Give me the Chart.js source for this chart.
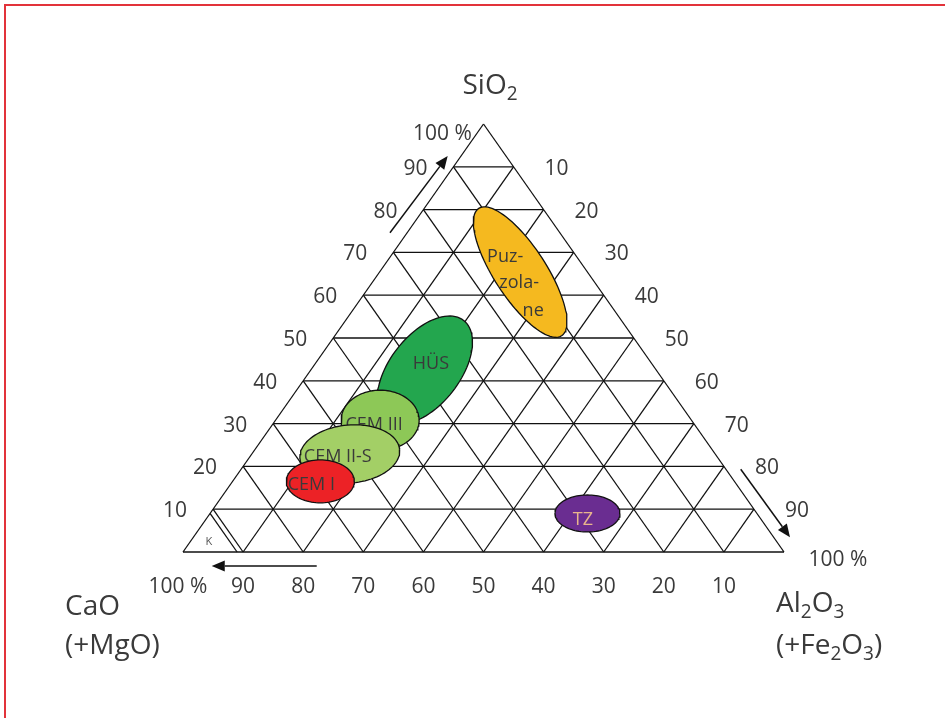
<!DOCTYPE html>
<html>
<head>
<meta charset="utf-8">
<script src="https://cdn.jsdelivr.net/npm/chart.js@4/dist/chart.umd.min.js"></script>
<style>
  html, body { margin: 0; padding: 0; background: #fff; overflow: hidden; }
  canvas { display: block; }
</style>
</head>
<body>
<canvas id="c" width="945" height="718"></canvas>
<script>
// Ternary diagram SiO2 – CaO(+MgO) – Al2O3(+Fe2O3)
// x = Al2O3 + SiO2/2, y = SiO2 (both in %)

const tickValues = [10, 20, 30, 40, 50, 60, 70, 80, 90];

// Composition regions (centre in % SiO2 / % Al2O3)
const regionNames = ['Puzolane', 'HÜS', 'CEM III', 'CEM II-S', 'CEM I', 'TZ'];
const regionLabelLines = [['Puz-', 'zola-', 'ne'], ['HÜS'], ['CEM III'], ['CEM II-S'], ['CEM I'], ['TZ']];
const regionSiO2 = [65.4, 42.5, 30.8, 22.9, 16.5, 9.0];
const regionAl2O3 = [23.4, 19.0, 17.4, 16.3, 14.6, 62.8];
// spread of each region along its two conjugate axes, in % (x, y)
const regionSpreadA = [[6.89, -14.88], [6.45, 11.60], [6.49, 0], [8.29, 1.02], [5.66, 0], [5.41, 0]];
const regionSpreadB = [[3.63, 3.31], [4.59, -5.03], [0, 7.01], [0.42, -6.75], [0, 5.02], [0, 4.32]];

// Small corner field "K" bounded by the CaO = 91 % line
const cornerFieldCaO = 91;

const FONT = '"Open Sans", "Noto Sans", "DejaVu Sans", sans-serif';
const TEXT = '#3a3a3a';
const regionColors = ['#f5b91f', '#23a64e', '#8dc857', '#a3cf66', '#ec2226', '#6a2d91'];
const regionTextColors = [TEXT, TEXT, TEXT, TEXT, TEXT, '#e8b58c'];
const regionOrder = [60, 50, 40, 30, 20, 10];
// label line offsets from region centre in px
const regionLabelOffsets = [[[-15, -17], [-1, 9], [13, 37]], [[6, -8]], [[-6, 3]], [[-12, 1]], [[-9, 1.5]], [[-4.5, 4.5]]];

const pt = (x, y) => ({ x, y });
const datasets = [];

function gridLine(p, q) {
  datasets.push({
    data: [p, q], showLine: true, borderColor: '#111', borderWidth: 1.3,
    pointRadius: 0, fill: false, clip: false, order: 100
  });
}

// frame of the triangle
gridLine(pt(0, 0), pt(100, 0));
gridLine(pt(100, 0), pt(50, 100));
gridLine(pt(50, 100), pt(0, 0));
tickValues.forEach(v => {
  gridLine(pt(v / 2, v), pt(100 - v / 2, v));          // constant SiO2
  gridLine(pt(v, 0), pt(v / 2, v));                    // constant CaO
  gridLine(pt(v, 0), pt(50 + v / 2, 100 - v));         // constant Al2O3
});
{
  const v = 100 - cornerFieldCaO;
  gridLine(pt(v, 0), pt(v / 2, v));
}

// regions as closed outlines
regionNames.forEach((name, i) => {
  const cx = regionAl2O3[i] + regionSiO2[i] / 2;
  const cy = regionSiO2[i];
  const [ax, ay] = regionSpreadA[i];
  const [bx, by] = regionSpreadB[i];
  const pts = [];
  const N = 96;
  for (let k = 0; k <= N; k++) {
    const t = (2 * Math.PI * k) / N;
    pts.push(pt(cx + Math.cos(t) * ax + Math.sin(t) * bx, cy + Math.cos(t) * ay + Math.sin(t) * by));
  }
  datasets.push({
    label: name, data: pts, showLine: true, borderColor: '#111', borderWidth: 1.3,
    backgroundColor: regionColors[i], fill: 'shape', pointRadius: 0, clip: false,
    order: regionOrder[i], regionIndex: i
  });
});

function richText(ctx, parts, x, y, size) {
  let cx = x;
  ctx.textAlign = 'left';
  ctx.textBaseline = 'alphabetic';
  parts.forEach(([t, sub]) => {
    const s = sub ? size * 0.68 : size;
    ctx.font = `400 ${s}px ${FONT}`;
    ctx.fillText(t, cx, sub ? y + size * 0.2 : y);
    cx += ctx.measureText(t).width;
  });
}

function arrow(ctx, x1, y1, x2, y2) {
  const ang = Math.atan2(y2 - y1, x2 - x1);
  const L = 13, W = 5.5;
  const bx = x2 - L * Math.cos(ang), by = y2 - L * Math.sin(ang);
  ctx.beginPath();
  ctx.moveTo(x1, y1);
  ctx.lineTo(bx, by);
  ctx.lineWidth = 1.5;
  ctx.strokeStyle = '#111';
  ctx.stroke();
  ctx.beginPath();
  ctx.moveTo(x2, y2);
  ctx.lineTo(bx + W * Math.sin(ang), by - W * Math.cos(ang));
  ctx.lineTo(bx - W * Math.sin(ang), by + W * Math.cos(ang));
  ctx.closePath();
  ctx.fillStyle = '#111';
  ctx.fill();
}

const textPlugin = {
  id: 'ternaryText',
  beforeDraw(chart) {
    const ctx = chart.ctx;
    ctx.save();
    ctx.fillStyle = '#fff';
    ctx.fillRect(0, 0, chart.width, chart.height);
    // page frame: left and top rule
    ctx.strokeStyle = '#e2333a';
    ctx.lineWidth = 2;
    ctx.beginPath();
    ctx.moveTo(5, chart.height + 2);
    ctx.lineTo(5, 5);
    ctx.lineTo(chart.width + 2, 5);
    ctx.stroke();
    ctx.restore();
  },
  afterDatasetDraw(chart, args) {
    const ds = chart.data.datasets[args.index];
    if (ds.regionIndex === undefined) return;
    const i = ds.regionIndex;
    const X = chart.scales.x, Y = chart.scales.y;
    const px = X.getPixelForValue(regionAl2O3[i] + regionSiO2[i] / 2);
    const py = Y.getPixelForValue(regionSiO2[i]);
    const ctx = chart.ctx;
    ctx.save();
    ctx.font = `400 18px ${FONT}`;
    ctx.fillStyle = regionTextColors[i];
    ctx.textAlign = 'center';
    ctx.textBaseline = 'alphabetic';
    regionLabelLines[i].forEach((line, j) => {
      const [dx, dy] = regionLabelOffsets[i][j];
      ctx.fillText(line, px + dx, py + dy + 7);
    });
    ctx.restore();
  },
  afterDraw(chart) {
    const X = chart.scales.x, Y = chart.scales.y;
    const ctx = chart.ctx;
    const fx = v => X.getPixelForValue(v);
    const fy = v => Y.getPixelForValue(v);
    ctx.save();
    ctx.fillStyle = TEXT;
    ctx.font = `400 21px ${FONT}`;
    ctx.textAlign = 'center';
    ctx.textBaseline = 'alphabetic';

    // SiO2 scale along the left edge
    tickValues.forEach(v => ctx.fillText(String(v), fx(v / 2) - 38, fy(v) + 8));
    ctx.fillText('100 %', fx(50) - 41, fy(100) + 16);
    // Al2O3 scale along the right edge
    tickValues.forEach(v => ctx.fillText(String(v), fx(50 + v / 2) + 43, fy(100 - v) + 8));
    ctx.fillText('100 %', fx(100) + 54, fy(0) + 14);
    // CaO scale along the base
    tickValues.forEach(v => ctx.fillText(String(v), fx(100 - v), fy(0) + 41));
    ctx.fillText('100 %', fx(0) - 5, fy(0) + 41);

    // corner field mark
    ctx.font = `400 11px ${FONT}`;
    ctx.fillStyle = '#555';
    ctx.fillText('K', fx(4.3), fy(2.5) + 4);

    // reading direction arrows
    arrow(ctx, fx(34.44), fy(74.6), fx(44.04), fy(92.52));
    arrow(ctx, fx(92.8), fy(19.32), fx(101.0), fy(3.43));
    arrow(ctx, fx(22.25), fy(-3.27), fx(4.78), fy(-3.27));

    // corner titles
    ctx.fillStyle = TEXT;
    richText(ctx, [['SiO', false], ['2', true]], fx(50) - 21, fy(100) - 30, 28);
    richText(ctx, [['CaO', false]], 65, 615, 28);
    richText(ctx, [['(+MgO)', false]], 65, 654, 28);
    richText(ctx, [['Al', false], ['2', true], ['O', false], ['3', true]], 776, 612, 28);
    richText(ctx, [['(+Fe', false], ['2', true], ['O', false], ['3', true], [')', false]], 776, 654, 28);
    ctx.restore();
  }
};

new Chart(document.getElementById('c'), {
  type: 'scatter',
  data: { datasets },
  options: {
    responsive: false,
    animation: false,
    devicePixelRatio: 1,
    events: [],
    layout: { padding: { left: 183, right: 161, top: 124, bottom: 166 } },
    scales: {
      x: { type: 'linear', min: 0, max: 100, display: false },
      y: { type: 'linear', min: 0, max: 100, display: false }
    },
    elements: { point: { radius: 0 }, line: { tension: 0 } },
    plugins: { legend: { display: false }, tooltip: { enabled: false } }
  },
  plugins: [textPlugin]
});
</script>
</body>
</html>
